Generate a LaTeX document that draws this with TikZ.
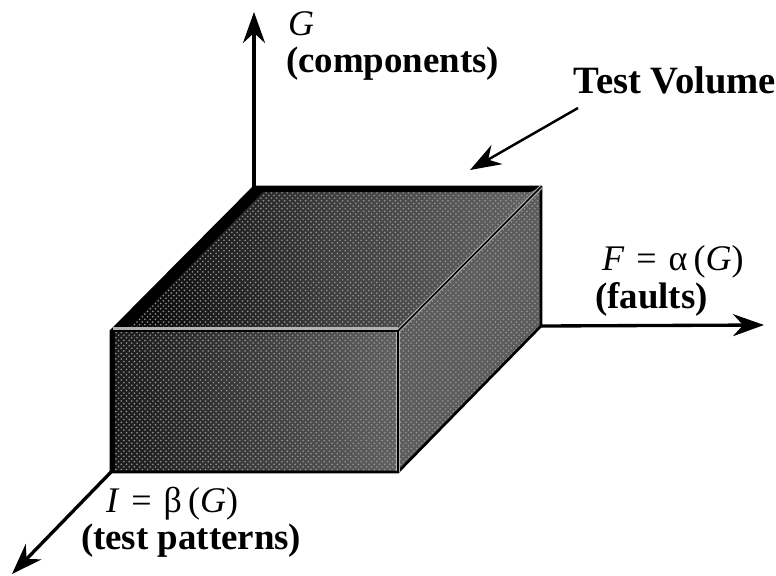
\documentclass[tikz,border=0pt]{standalone}
\usepackage{fontspec}
\setmainfont{Liberation Serif}
\usetikzlibrary{positioning}
\usetikzlibrary{patterns}
\usetikzlibrary{arrows.meta}
\tikzset{>={Stealth[length=.62cm,width=.44cm]}}
\tikzset{axisline/.style={->, line width=1.9pt}}
\tikzset{edgeline/.style={line width=1.5pt}}
\tikzset{halo/.style={line width=2.2pt, black!30}}
\tikzset{labelbold/.style={inner sep=0pt, outer sep=0pt, font=\fontsize{21}{23}\selectfont\bfseries}}
\tikzset{labelplain/.style={inner sep=0pt, outer sep=0pt, font=\fontsize{20.5}{22}\selectfont}}
\tikzset{grain/.style={pattern=crosshatch dots, pattern color=white!60!black}}
\begin{document}
\begin{tikzpicture}[x=.02cm, y=-.02cm]
\useasboundingbox (0, 0) rectangle (776, 575);
% corners of the block
\coordinate (ftl) at (111, 331);
\coordinate (ftr) at (398, 331);
\coordinate (fbr) at (398, 472);
\coordinate (fbl) at (111, 472);
\coordinate (btl) at (254, 187);
\coordinate (btr) at (541, 187);
\coordinate (bbr) at (541, 326);
% free ends of the axes
\coordinate (gend) at (254, 12);
\coordinate (fend) at (764, 325);
\coordinate (iend) at (12, 574);
\coordinate (vstart) at (578, 108);
\coordinate (vend) at (470, 170);
% axes
\draw[axisline] (btl) -- (gend);
\draw[axisline] (bbr) -- (fend);
\draw[axisline] (fbl) -- (iend);
\draw[->, line width=1.4pt] (vstart) -- (vend);
% faces
\begin{scope}
\clip (ftl) -- (ftr) -- (btr) -- (btl) -- cycle;
\shade[left color=black, right color=black!60, middle color=black!76] (111, 187) rectangle (541, 331);
\end{scope}
\fill[black!64] (ftr) -- (btr) -- (bbr) -- (fbr) -- cycle;
\shade[left color=black!90, right color=black!62] (ftl) rectangle (fbr);
\fill[grain] (ftl) -- (ftr) -- (btr) -- (btl) -- cycle;
\fill[grain] (ftr) -- (btr) -- (bbr) -- (fbr) -- cycle;
\fill[grain] (ftl) -- (ftr) -- (fbr) -- (fbl) -- cycle;
% darker left side and top of the block
\fill[black] (ftl) -- (btl) -- (268, 187) -- (125, 331) -- cycle;
\fill[black] (btl) -- (btr) -- (530, 192) -- (250, 192) -- cycle;
\fill[black] (ftl) -- (115, 331) -- (115, 472) -- (111, 472) -- cycle;
% edges
\draw[edgeline] (ftl) -- (btl) -- (btr) -- (bbr) -- (fbr) -- (fbl) -- cycle;
\draw[halo] (ftr) -- (btr);
\draw[halo] (ftr) -- (fbr);
\draw[halo] (113, 329) -- (398, 329);
\draw[line width=.9pt] (ftl) -- (ftr) -- (fbr);
\draw[line width=.9pt] (ftr) -- (btr);
\draw[line width=1.5pt] (fbl) -- (fbr);
% labels
\node[labelplain, anchor=base west] (gsym) at (288, 35) {\textit{G}};
\node[labelbold, anchor=base west] (gname) at (286, 72) {(components)};
\node[labelbold, anchor=base east, font=\fontsize{22}{23}\selectfont\bfseries] (vname) at (776, 93) {Test Volume};
\node[labelplain, anchor=base west] (fsym) at (602, 270) {\textit{F}\,\,=\,\,α\,(\textit{G})};
\node[labelbold, anchor=base west] (fname) at (595, 308) {(faults)};
\node[labelplain, anchor=base west] (isym) at (106, 512) {\textit{I}\,\,=\,\,β\,(\textit{G})};
\node[labelbold, anchor=base west] (iname) at (81, 549) {(test patterns)};
\end{tikzpicture}
\end{document}
